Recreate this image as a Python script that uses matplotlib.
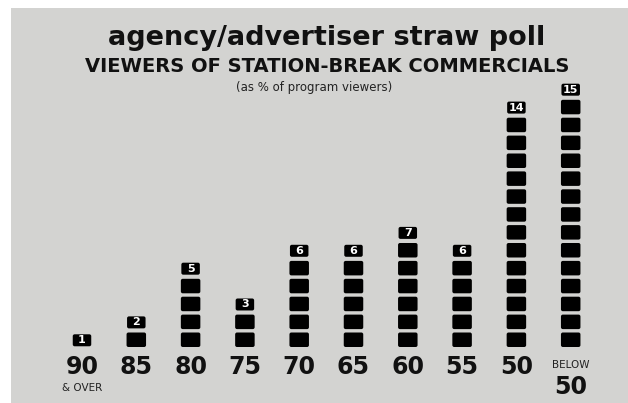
import matplotlib
matplotlib.use("Agg")
import matplotlib.pyplot as plt
from matplotlib.patches import FancyBboxPatch, Rectangle

# data
categories = ["90", "85", "80", "75", "70", "65", "60", "55", "50", "50"]
counts = [1, 2, 5, 3, 6, 6, 7, 6, 14, 15]

W, H = 628, 403
fig = plt.figure(figsize=(W / 100, H / 100), dpi=100)
fig.patch.set_facecolor("white")

# grey paper panel
fig.patches.append(Rectangle((11 / W, 0), 1 - 11 / W, 1 - 8 / H,
                             transform=fig.transFigure, facecolor="#d3d3d1",
                             edgecolor="none", zorder=-1))

# axes: one x unit = one column (54.3 px), one y unit = one block (17.9 px)
px_x, px_y = 54.3, 17.9
left = 82 - px_x / 2
bottom = H - 347
ax = fig.add_axes([left / W, bottom / H, 10 * px_x / W, 16 * px_y / H])
ax.set_xlim(-0.5, 9.5)
ax.set_ylim(0, 16)
ax.axis("off")
ax.patch.set_alpha(0)

aspect = px_x / px_y


def block(x, y, w_px, h_px):
    w, h = w_px / px_x, h_px / px_y
    ax.add_patch(FancyBboxPatch((x - w / 2, y), w, h,
                                boxstyle="round,pad=0,rounding_size=0.035",
                                mutation_aspect=aspect,
                                facecolor="black", edgecolor="none"))


for i, n in enumerate(counts):
    for k in range(n - 1):
        block(i, k, 19.5, 14.5)
    # smaller tag on top carrying the count
    block(i, n - 1 + 0.04, 18.5, 12)
    ax.text(i, n - 1 + 0.04 + 6 / px_y, str(n), color="white", fontsize=8,
            fontweight="bold", ha="center", va="center")

# category labels
for i, c in enumerate(categories):
    y = -1.12 if i < 9 else -2.22
    ax.text(i, y, c, fontsize=17, fontweight="bold", ha="center",
            va="center", color="#111111", clip_on=False)
ax.text(0, -2.3, "& OVER", fontsize=7.5, ha="center", va="center",
        color="#222222", clip_on=False)
ax.text(9, -1.0, "BELOW", fontsize=7.5, ha="center", va="center",
        color="#222222", clip_on=False)

# titles
fig.text(327 / W, 1 - 38 / H, "agency/advertiser straw poll", fontsize=19.5,
         fontweight="bold", ha="center", va="center", color="#111111")
fig.text(327 / W, 1 - 67 / H, "VIEWERS OF STATION-BREAK COMMERCIALS",
         fontsize=14, fontweight="bold", ha="center", va="center",
         color="#111111")
fig.text(314 / W, 1 - 88 / H, "(as % of program viewers)", fontsize=8.5,
         ha="center", va="center", color="#222222")

fig.savefig("out.png", dpi=100)
